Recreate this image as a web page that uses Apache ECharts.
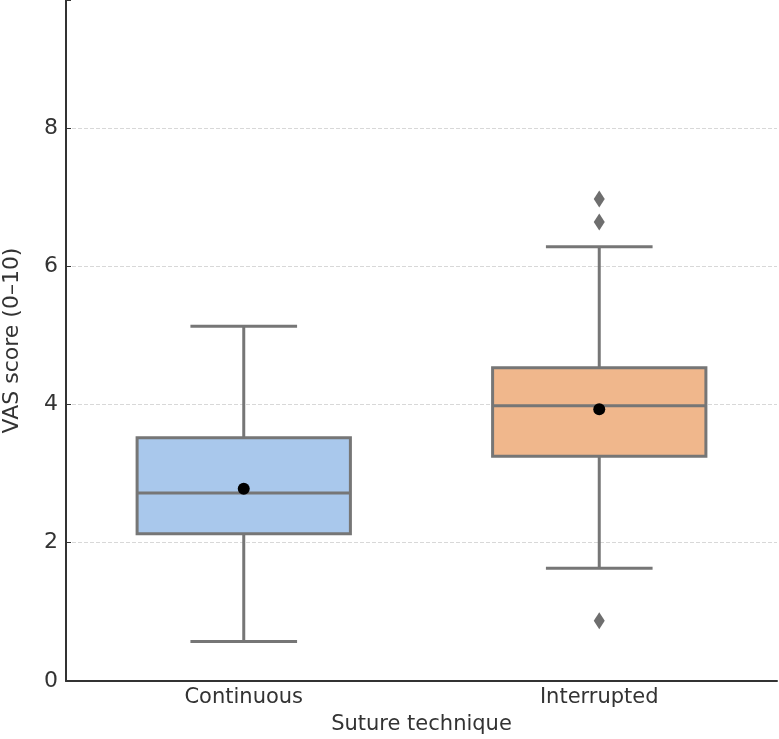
<!DOCTYPE html>
<html>
<head>
<meta charset="utf-8">
<script src="https://cdn.jsdelivr.net/npm/echarts@6/dist/echarts.min.js"></script>
<style>
  html, body { margin: 0; padding: 0; background: #fff; }
  #chart { width: 779px; height: 739px; }
</style>
</head>
<body>
<div id="chart"></div>
<script>
// box stats
const categories = ['Continuous', 'Interrupted']
const whiskerLow = [0.57, 1.63]
const q1 = [2.13, 3.25]
const median = [2.72, 3.98]
const q3 = [3.52, 4.53]
const whiskerHigh = [5.13, 6.28]
const means = [2.78, 3.93]
const outlierCat = [1, 1, 1]
const outlierVal = [6.97, 6.64, 0.87]

const boxColors = ['#a9c8ec', '#f0b78c']
const lineGray = '#767676'
const font = 'DejaVu Sans'

const chart = echarts.init(document.getElementById('chart'))

// box + whiskers drawn as a custom series
const boxData = categories.map((c, i) => [i, whiskerLow[i], q1[i], median[i], q3[i], whiskerHigh[i]])

const renderBox = (params, api) => {
  const idx = api.value(0)
  const band = api.size([1, 0])[0]
  const boxW = band * 0.6
  const capW = boxW * 0.5
  const pLow = api.coord([idx, api.value(1)])
  const pQ1 = api.coord([idx, api.value(2)])
  const pMed = api.coord([idx, api.value(3)])
  const pQ3 = api.coord([idx, api.value(4)])
  const pHigh = api.coord([idx, api.value(5)])
  const cx = pQ1[0]
  const lineStyle = { stroke: lineGray, lineWidth: 3 }
  return {
    type: 'group',
    children: [
      { type: 'line', shape: { x1: cx, y1: pQ1[1], x2: cx, y2: pLow[1] }, style: lineStyle },
      { type: 'line', shape: { x1: cx, y1: pQ3[1], x2: cx, y2: pHigh[1] }, style: lineStyle },
      { type: 'line', shape: { x1: cx - capW / 2, y1: pLow[1], x2: cx + capW / 2, y2: pLow[1] }, style: lineStyle },
      { type: 'line', shape: { x1: cx - capW / 2, y1: pHigh[1], x2: cx + capW / 2, y2: pHigh[1] }, style: lineStyle },
      {
        type: 'rect',
        shape: { x: cx - boxW / 2, y: pQ3[1], width: boxW, height: pQ1[1] - pQ3[1] },
        style: { fill: boxColors[idx], stroke: lineGray, lineWidth: 3 }
      },
      { type: 'line', shape: { x1: cx - boxW / 2, y1: pMed[1], x2: cx + boxW / 2, y2: pMed[1] }, style: lineStyle }
    ]
  }
}

chart.setOption({
  animation: false,
  grid: { left: 66, right: 2, top: 0, bottom: 58, containLabel: false, outerBoundsMode: 'none' },
  xAxis: {
    type: 'category',
    data: categories,
    boundaryGap: true,
    name: 'Suture technique',
    nameLocation: 'middle',
    nameGap: 33,
    nameTextStyle: { fontFamily: font, fontSize: 21, color: '#333' },
    axisLine: { lineStyle: { color: '#333', width: 2 } },
    axisTick: { alignWithLabel: true, inside: true, length: 6, lineStyle: { color: '#333' } },
    axisLabel: { fontFamily: font, fontSize: 21, color: '#333', margin: 6 }
  },
  yAxis: {
    type: 'value',
    min: 0,
    max: 9.85,
    interval: 2,
    name: 'VAS score (0–10)',
    nameLocation: 'middle',
    nameGap: 43,
    nameRotate: 90,
    nameTextStyle: { fontFamily: font, fontSize: 22, color: '#333' },
    axisLine: { show: true, lineStyle: { color: '#333', width: 2 } },
    axisTick: { show: true, inside: true, length: 5, lineStyle: { color: '#333' } },
    axisLabel: {
      fontFamily: font, fontSize: 22, color: '#333', margin: 8,
      formatter: v => (v % 2 === 0 ? String(v) : '')
    },
    splitLine: { show: true, showMaxLine: false, lineStyle: { color: '#d8d8d8', type: 'dashed', width: 1 } }
  },
  series: [
    {
      type: 'custom',
      renderItem: renderBox,
      encode: { x: 0, y: [1, 2, 3, 4, 5] },
      data: boxData,
      z: 2
    },
    {
      type: 'scatter',
      symbol: 'circle',
      symbolSize: 12,
      itemStyle: { color: '#000', opacity: 1 },
      data: means.map((m, i) => [i, m]),
      z: 5
    },
    {
      type: 'scatter',
      symbol: 'diamond',
      symbolSize: [11, 17],
      itemStyle: { color: '#6e6e6e', opacity: 1 },
      data: outlierVal.map((v, i) => [outlierCat[i], v]),
      z: 5
    }
  ]
})
</script>
</body>
</html>
